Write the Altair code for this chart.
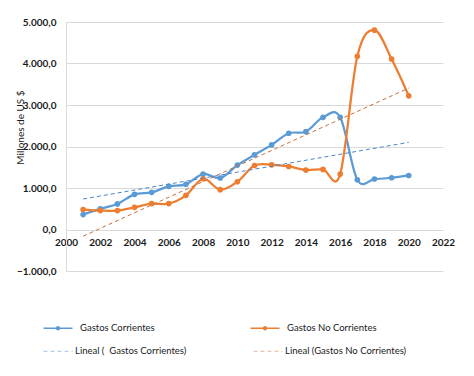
import altair as alt
import pandas as pd

years = [2001, 2002, 2003, 2004, 2005, 2006, 2007, 2008, 2009, 2010,
         2011, 2012, 2013, 2014, 2015, 2016, 2017, 2018, 2019, 2020]
gastos_corrientes = [360, 496, 616, 847, 895, 1040, 1088, 1336, 1240, 1552,
                     1799, 2038, 2319, 2357, 2703, 2703, 1199, 1216, 1247, 1302]
gastos_no_corrientes = [480, 456, 456, 535, 624, 624, 823, 1223, 959, 1151,
                        1542, 1559, 1519, 1432, 1447, 1336, 4173, 4804, 4108, 3221]
series_names = ["Gastos Corrientes", "Gastos No Corrientes"]
trend_names = ["Lineal (Gastos Corrientes)", "Lineal (Gastos No Corrientes)"]
x_ticks = [2000, 2002, 2004, 2006, 2008, 2010, 2012, 2014, 2016, 2018, 2020, 2022]
y_ticks = [-1000, 0, 1000, 2000, 3000, 4000, 5000]
y_title = "Millones de US $"

series_colors = ["#5B9BD5", "#ED7D31"]
trend_colors = ["#4A86C8", "#C8703F"]
FONT = "Lato"
TXT = "#1a1a1a"

df = pd.DataFrame({
    "year": years + years,
    "value": gastos_corrientes + gastos_no_corrientes,
    "series": [series_names[0]] * len(years) + [series_names[1]] * len(years),
})

NB = "\u00a0"
legend_a = alt.Legend(
    title=None, orient="none", legendX=-14, legendY=300, columns=2,
    columnPadding=92, symbolSize=100, symbolStrokeWidth=1.5,
    symbolType="M-2.9,0L2.9,0M0.3,0A0.3,0.3,0,1,1,-0.3,0A0.3,0.3,0,1,1,0.3,0Z",
    labelFont=FONT, labelFontSize=9.5, labelColor=TXT, labelOffset=16,
    labelExpr=f"datum.label == 'Gastos Corrientes' ? '{NB}{NB}Gastos Corrientes' : datum.label",
)
legend_b = alt.Legend(
    title=None, orient="none", legendX=-14, legendY=323, columns=2,
    columnPadding=64, symbolSize=100, symbolStrokeWidth=1.2,
    symbolType="M-2.9,0L2.9,0", symbolDash=[4, 3], symbolOpacity=0.5,
    labelFont=FONT, labelFontSize=9.5, labelColor=TXT, labelOffset=11,
    labelExpr=f"datum.label == 'Lineal (Gastos Corrientes)' ? 'Lineal ({NB}{NB}Gastos Corrientes)' : datum.label",
)

x = alt.X("year:Q", scale=alt.Scale(domain=[2000, 2022], nice=False, zero=False),
          axis=alt.Axis(values=x_ticks, format="d", title=None, grid=False, domain=False,
                        ticks=False, offset=-41.5, labelPadding=8, labelFont=FONT,
                        labelOverlap=False, labelFlush=False,
                        labelFontSize=10, labelFontWeight="bold", labelColor=TXT))
y = alt.Y("value:Q", scale=alt.Scale(domain=[-1000, 5000], nice=False),
          axis=alt.Axis(values=y_ticks, title=y_title, grid=True, gridColor="#D9D9D9",
                        domain=True, domainColor="#D9D9D9", ticks=False, labelPadding=10,
                        labelOverlap=False,
                        labelExpr="replace(replace(replace(format(datum.value, ',.1f'), ',', '_'), '.', ','), '_', '.')",
                        labelFont=FONT, labelFontSize=10, labelFontWeight="bold", labelColor=TXT,
                        titleFont=FONT, titleFontSize=10, titleFontWeight="normal", titleColor=TXT,
                        titleX=-46, titleY=105, titleAngle=-90, titleAlign="center",
                        titleBaseline="middle"))

base = alt.Chart(df)
lines = base.mark_line(interpolate="cardinal", tension=0, strokeWidth=2.25).encode(
    x=x, y=y,
    stroke=alt.Stroke("series:N", scale=alt.Scale(domain=series_names, range=series_colors), legend=legend_a),
)
points = base.mark_circle(size=32, opacity=1).encode(
    x=x, y=y,
    fill=alt.Fill("series:N", scale=alt.Scale(domain=series_names, range=series_colors), legend=None),
)
trend = base.transform_regression("year", "value", groupby=["series"]).transform_calculate(
    trend="'Lineal (' + datum.series + ')'"
).mark_line(strokeDash=[4, 3], strokeWidth=1).encode(
    x=x, y=y,
    stroke=alt.Stroke("trend:N", scale=alt.Scale(domain=trend_names, range=trend_colors), legend=legend_b),
)

chart = alt.layer(lines, points, trend).resolve_scale(stroke="independent").resolve_legend(
    stroke="independent"
).properties(
    width=377, height=249, autosize="none",
    padding={"left": 66, "top": 22, "right": 31, "bottom": 105},
    background="white",
).configure_view(stroke=None)

chart.save("out.html", embed_options={"renderer": "svg", "actions": False})
